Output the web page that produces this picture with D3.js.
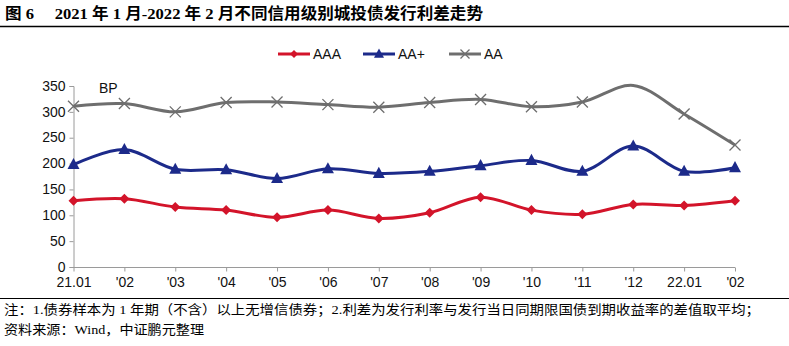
<!DOCTYPE html>
<html><head><meta charset="utf-8">
<script src="https://cdn.jsdelivr.net/npm/d3@7"></script>
<style>body{margin:0;background:#fff}svg{display:block}</style>
</head><body><svg id="c" width="789" height="346"></svg>
<script>
const categories = ["21.01","'02","'03","'04","'05","'06","'07","'08","'09","'10","'11","'12","22.01","'02"];
const aaa   = [128,132,116,110,96,110,94,105,135,110,102,121,119,128];
const aaPlus= [198,227,189,188,171,190,181,185,196,206,185,234,185,192];
const aa    = [311,316,300,318,319,314,309,318,324,310,319,351,296,236];
const seriesNames = ["AAA","AA+","AA"];
const yTicks = [0,50,100,150,200,250,300,350];
const titleText = "图 6\u3000 2021 年 1 月-2022 年 2 月不同信用级别城投债发行利差走势";
const noteText = "注：1.债券样本为 1 年期（不含）以上无增信债券；2.利差为发行利率与发行当日同期限国债到期收益率的差值取平均；";
const sourceText = "资料来源：Wind，中证鹏元整理";

const svg = d3.select("#c");
const colors = ["#D3142A","#1C2A8A","#6E6E6E"];
const series = [aaa, aaPlus, aa];
const cjk = "'Liberation Serif','Noto Sans CJK SC',serif";
const sans = "'Liberation Sans',Arial,sans-serif";

// title
svg.append("text").attr("x",5).attr("y",19).attr("font-family",cjk).attr("font-weight","bold")
  .attr("font-size",15.5).attr("fill","#000").text(titleText)
  .attr("textLength",478).attr("lengthAdjust","spacingAndGlyphs");
svg.append("line").attr("x1",0).attr("x2",789).attr("y1",26.5).attr("y2",26.5).attr("stroke","#000").attr("stroke-width",1.5);

const x = d3.scalePoint().domain(d3.range(categories.length)).range([73.5,735]);
const y = d3.scaleLinear().domain([0,350]).range([267,86]);

const axisColor = "#9a9a9a";
const yAxis = svg.append("g").attr("transform","translate(73.5,0)")
  .call(d3.axisLeft(y).tickValues(yTicks).tickSize(4).tickPadding(4));
const xAxis = svg.append("g").attr("transform","translate(0,267.5)")
  .call(d3.axisBottom(x).tickSize(4).tickPadding(6).tickFormat(i=>categories[i]));
[yAxis,xAxis].forEach(g=>{
  g.selectAll("path,line").attr("stroke",axisColor);
  g.selectAll("text").attr("font-family",sans).attr("font-size",14).attr("fill","#111");
});
yAxis.selectAll("text").attr("dy","0.3em");
xAxis.select("path").attr("d","M73.5,0H735");

svg.append("text").attr("x",99).attr("y",93).attr("font-family",sans)
  .attr("font-size",14).attr("fill","#111").text("BP");

const line = d3.line().x((d,i)=>x(i)).y(d=>y(d)).curve(d3.curveCatmullRom.alpha(0.5));

function marker(g, k, cx, cy, s){
  if(k===0){
    g.append("path").attr("d",`M${cx},${cy-s}L${cx+s},${cy}L${cx},${cy+s}L${cx-s},${cy}Z`).attr("fill",colors[0]);
  } else if(k===1){
    g.append("path").attr("d",`M${cx},${cy-s*1.1}L${cx+s},${cy+s*0.75}L${cx-s},${cy+s*0.75}Z`).attr("fill",colors[1]);
  } else {
    g.append("path").attr("d",`M${cx-s},${cy-s}L${cx+s},${cy+s}M${cx-s},${cy+s}L${cx+s},${cy-s}`)
      .attr("stroke",colors[2]).attr("stroke-width",1.3).attr("fill","none");
  }
}

[2,1,0].forEach(k=>{
  const data = series[k];
  svg.append("path").datum(data).attr("d",line).attr("fill","none")
    .attr("stroke",colors[k]).attr("stroke-width",3);
  const g = svg.append("g");
  data.forEach((v,i)=>{
    if(v>350) return;
    marker(g,k,x(i),y(v),k===2?5.5:(k===1?6:5));
  });
});

// legend
const lx = [278,363,449];
seriesNames.forEach((n,k)=>{
  const g = svg.append("g");
  g.append("line").attr("x1",lx[k]).attr("x2",lx[k]+32).attr("y1",54).attr("y2",54)
    .attr("stroke",colors[k]).attr("stroke-width",3);
  marker(g,k,lx[k]+16,54,k===2?4.5:(k===1?5:4));
  g.append("text").attr("x",lx[k]+35).attr("y",59).attr("font-family",sans)
    .attr("font-size",14).attr("fill","#111").text(n);
});

// footer
svg.append("line").attr("x1",0).attr("x2",789).attr("y1",298.5).attr("y2",298.5).attr("stroke","#000").attr("stroke-width",1);
svg.append("text").attr("x",4).attr("y",314).attr("font-family",cjk).attr("font-size",13).attr("fill","#000")
  .text(noteText).attr("textLength",756).attr("lengthAdjust","spacingAndGlyphs");
svg.append("text").attr("x",4).attr("y",334).attr("font-family",cjk).attr("font-size",13).attr("fill","#000")
  .text(sourceText).attr("textLength",200).attr("lengthAdjust","spacingAndGlyphs");
</script></body></html>
